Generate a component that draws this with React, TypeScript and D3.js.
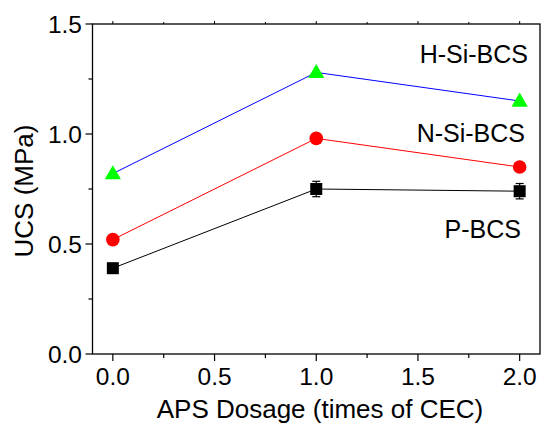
import React from "react";
import * as d3 from "d3";

const dosages = [0.0, 1.0, 2.0];
const pBCS = [0.39, 0.75, 0.74];
const pBCSErr = [0.02, 0.035, 0.035];
const nSiBCS = [0.52, 0.98, 0.85];
const hSiBCS = [0.82, 1.28, 1.15];
const xMajorTicks = [0.0, 0.5, 1.0, 1.5, 2.0];
const xMinorTicks = [0.25, 0.75, 1.25, 1.75];
const yMajorTicks = [0.0, 0.5, 1.0, 1.5];
const yMinorTicks = [0.25, 0.75, 1.25];
const seriesLabels = ["H-Si-BCS", "N-Si-BCS", "P-BCS"];

const W = 541;
const H = 424;
const FONT = "Arial, 'Liberation Sans', Helvetica, sans-serif";

export default function App() {
  const x = d3.scaleLinear().domain([-0.1, 2.1]).range([92.5, 540]);
  const y = d3.scaleLinear().domain([0, 1.5]).range([354, 24]);
  const left = x(-0.1);
  const right = x(2.1);
  const top = y(1.5);
  const bottom = y(0);

  const line = d3
    .line<number>()
    .x((_, i) => x(dosages[i]))
    .y((d) => y(d));

  const tri = d3.symbol().type(d3.symbolTriangle).size(115)();

  return (
    <svg
      width={W}
      height={H}
      style={{ position: "absolute", left: 0, top: 0, background: "#fff" }}
      fontFamily={FONT}
    >
      {/* frame */}
      <rect x={left} y={top} width={right - left} height={bottom - top} fill="none" stroke="#000" strokeWidth={1.3} />
      {/* bottom ticks */}
      {xMajorTicks.map((t) => (
        <g key={"xm" + t}>
          <line x1={x(t)} x2={x(t)} y1={bottom} y2={bottom + 7} stroke="#000" strokeWidth={1.2} />
          <line x1={x(t)} x2={x(t)} y1={top} y2={top - 3} stroke="#000" strokeWidth={1} />
          <text x={x(t)} y={385} textAnchor="middle" fontSize={24.5} fill="#000">
            {d3.format(".1f")(t)}
          </text>
        </g>
      ))}
      {xMinorTicks.map((t) => (
        <g key={"xn" + t}>
          <line x1={x(t)} x2={x(t)} y1={bottom} y2={bottom + 4} stroke="#000" strokeWidth={1.2} />
          <line x1={x(t)} x2={x(t)} y1={top} y2={top - 2} stroke="#000" strokeWidth={1} />
        </g>
      ))}
      {/* left ticks */}
      {yMajorTicks.map((t) => (
        <g key={"ym" + t}>
          <line x1={left} x2={left - 7} y1={y(t)} y2={y(t)} stroke="#000" strokeWidth={1.2} />
          <text x={82} y={y(t)} dy="0.36em" textAnchor="end" fontSize={24.5} fill="#000">
            {d3.format(".1f")(t)}
          </text>
        </g>
      ))}
      {yMinorTicks.map((t) => (
        <line key={"yn" + t} x1={left} x2={left - 4} y1={y(t)} y2={y(t)} stroke="#000" strokeWidth={1.2} />
      ))}
      {/* axis titles */}
      <text x={320} y={418} textAnchor="middle" fontSize={26} fill="#000">
        APS Dosage (times of CEC)
      </text>
      <text
        transform={`translate(33,191) rotate(-90)`}
        textAnchor="middle"
        fontSize={26}
        fill="#000"
      >
        UCS (MPa)
      </text>

      {/* lines */}
      <path d={line(hSiBCS) || ""} fill="none" stroke="#0000ff" strokeWidth={1} />
      <path d={line(nSiBCS) || ""} fill="none" stroke="#ff0000" strokeWidth={1} />
      <path d={line(pBCS) || ""} fill="none" stroke="#000" strokeWidth={1} />

      {/* error bars */}
      {pBCS.map((v, i) => (
        <g key={"e" + i} stroke="#000" strokeWidth={1.2}>
          <line x1={x(dosages[i])} x2={x(dosages[i])} y1={y(v - pBCSErr[i])} y2={y(v + pBCSErr[i])} />
          <line x1={x(dosages[i]) - 4} x2={x(dosages[i]) + 4} y1={y(v - pBCSErr[i])} y2={y(v - pBCSErr[i])} />
          <line x1={x(dosages[i]) - 4} x2={x(dosages[i]) + 4} y1={y(v + pBCSErr[i])} y2={y(v + pBCSErr[i])} />
        </g>
      ))}

      {/* markers */}
      {pBCS.map((v, i) => (
        <rect key={"s" + i} x={x(dosages[i]) - 6} y={y(v) - 6} width={12} height={12} fill="#000" />
      ))}
      {nSiBCS.map((v, i) => (
        <circle key={"c" + i} cx={x(dosages[i])} cy={y(v)} r={6.8} fill="#ff0000" />
      ))}
      {hSiBCS.map((v, i) => (
        <path key={"t" + i} d={tri || ""} transform={`translate(${x(dosages[i])},${y(v) + 1})`} fill="#00ff00" />
      ))}

      {/* labels */}
      <text x={528} y={63} textAnchor="end" fontSize={25} fill="#000">{seriesLabels[0]}</text>
      <text x={525} y={141.5} textAnchor="end" fontSize={25} fill="#000">{seriesLabels[1]}</text>
      <text x={521} y={237.5} textAnchor="end" fontSize={25} fill="#000">{seriesLabels[2]}</text>
    </svg>
  );
}
